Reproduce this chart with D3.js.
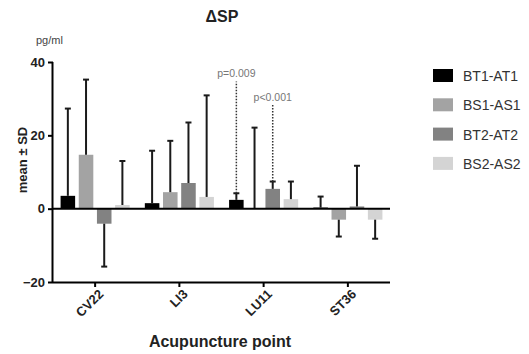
<!DOCTYPE html>
<html>
<head>
<meta charset="utf-8">
<script src="https://cdn.jsdelivr.net/npm/d3@7"></script>
<style>
  body { margin: 0; background: #fff; }
  text { font-family: "Liberation Sans", Arial, sans-serif; }
</style>
</head>
<body>
<div id="chart"></div>
<script>
// data
const points = ["CV22", "LI3", "LU11", "ST36"];
const groups = ["BT1-AT1", "BS1-AS1", "BT2-AT2", "BS2-AS2"];
const means = {
  "BT1-AT1": [3.5, 1.5, 2.4, 0.3],
  "BS1-AS1": [14.7, 4.5, 0.1, -3.0],
  "BT2-AT2": [-4.1, 7.0, 5.4, 0.6],
  "BS2-AS2": [1.0, 3.2, 2.6, -3.0],
};
const sds = {
  "BT1-AT1": [23.8, 14.3, 1.8, 3.0],
  "BS1-AS1": [20.5, 14.0, 22.0, 4.6],
  "BT2-AT2": [11.7, 16.5, 2.0, 11.1],
  "BS2-AS2": [12.0, 27.7, 4.8, 5.2],
};
const yTicks = [-20, 0, 20, 40];
const pNotes = [
  { point: "LU11", group: "BT1-AT1", label: "p=0.009", top: 34.7 },
  { point: "LU11", group: "BT2-AT2", label: "p<0.001", top: 28.4 },
];

const W = 529, H = 354;
const margin = { top: 62, right: 139, bottom: 72, left: 53 };
const width = W - margin.left - margin.right;
const height = H - margin.top - margin.bottom;

const color = d3.scaleOrdinal().domain(groups).range(["#000000", "#a3a3a3", "#828282", "#d4d4d4"]);

const x0 = d3.scaleBand().domain(points).range([0, width]).paddingInner(0.18).paddingOuter(0.09);
const x1 = d3.scaleBand().domain(groups).range([0, x0.bandwidth()]).paddingInner(0.2);
const y = d3.scaleLinear().domain([-20, 40]).range([height, 0]);

const svg = d3.select("#chart").append("svg")
  .attr("width", W).attr("height", H);
const g = svg.append("g").attr("transform", `translate(${margin.left},${margin.top})`);

const rows = [];
points.forEach((p, i) => groups.forEach((k) => {
  rows.push({ point: p, group: k, mean: means[k][i], sd: sds[k][i] });
}));

// bars
g.selectAll(".bar").data(rows).enter().append("rect")
  .attr("x", (d) => x0(d.point) + x1(d.group))
  .attr("width", x1.bandwidth())
  .attr("y", (d) => y(Math.max(0, d.mean)))
  .attr("height", (d) => Math.abs(y(d.mean) - y(0)))
  .attr("fill", (d) => color(d.group));

// one-sided error bars
const err = g.selectAll(".err").data(rows).enter().append("g")
  .attr("transform", (d) => `translate(${x0(d.point) + x1(d.group) + x1.bandwidth() / 2},0)`);
const tip = (d) => (d.mean >= 0 ? d.mean + d.sd : d.mean - d.sd);
err.append("line")
  .attr("y1", (d) => y(d.mean)).attr("y2", (d) => y(tip(d)))
  .attr("stroke", "#1a1a1a").attr("stroke-width", 2);
err.append("line")
  .attr("x1", -3).attr("x2", 3)
  .attr("y1", (d) => y(tip(d))).attr("y2", (d) => y(tip(d)))
  .attr("stroke", "#1a1a1a").attr("stroke-width", 2);

// zero line
g.append("line")
  .attr("x1", 0).attr("x2", width)
  .attr("y1", y(0)).attr("y2", y(0))
  .attr("stroke", "#000").attr("stroke-width", 2);

// p-value annotations
pNotes.forEach((n) => {
  const i = points.indexOf(n.point);
  const cx = x0(n.point) + x1(n.group) + x1.bandwidth() / 2;
  const base = means[n.group][i] + sds[n.group][i];
  g.append("line")
    .attr("x1", cx).attr("x2", cx)
    .attr("y1", y(base)).attr("y2", y(n.top))
    .attr("stroke", "#333").attr("stroke-width", 1.5)
    .attr("stroke-dasharray", "1.5,1.5");
  g.append("text")
    .attr("x", cx).attr("y", y(n.top) - 4)
    .attr("text-anchor", "middle")
    .attr("font-size", 10.5).attr("fill", "#777")
    .text(n.label);
});

// axes
const yAxis = g.append("g")
  .call(d3.axisLeft(y).tickValues(yTicks).tickSize(5).tickPadding(3));
const xAxis = g.append("g")
  .attr("transform", `translate(0,${height})`)
  .call(d3.axisBottom(x0).tickSize(5).tickPadding(4));
[yAxis, xAxis].forEach((a) => {
  a.select(".domain").attr("stroke-width", 2).attr("stroke", "#000");
  a.selectAll(".tick line").attr("stroke-width", 2).attr("stroke", "#000");
  a.selectAll("text").attr("font-size", 13).attr("font-weight", "bold").attr("fill", "#222")
    .style("font-family", "'Liberation Sans', Arial, sans-serif");
});
yAxis.select(".domain").attr("d", `M-0.5,${height}V0`);
xAxis.select(".domain").attr("d", `M0,0.5H${width}`);
xAxis.selectAll("text")
  .attr("text-anchor", "end")
  .attr("dx", "-0.2em").attr("dy", "0.5em")
  .attr("transform", "rotate(-45)");

// title and labels
svg.append("text")
  .attr("x", 222).attr("y", 22)
  .attr("text-anchor", "middle")
  .attr("font-size", 16).attr("font-weight", "bold").attr("fill", "#222")
  .text("ΔSP");
svg.append("text")
  .attr("x", 36).attr("y", 44)
  .attr("font-size", 11).attr("fill", "#444")
  .text("pg/ml");
svg.append("text")
  .attr("transform", "translate(27,160) rotate(-90)")
  .attr("text-anchor", "middle")
  .attr("font-size", 13).attr("font-weight", "bold").attr("fill", "#222")
  .text("mean ± SD");
svg.append("text")
  .attr("x", 220).attr("y", 347)
  .attr("text-anchor", "middle")
  .attr("font-size", 16).attr("font-weight", "bold").attr("fill", "#222")
  .text("Acupuncture point");

// legend
const legend = svg.selectAll(".legend").data(groups).enter().append("g")
  .attr("transform", (d, i) => `translate(433,${69 + i * 29.3})`);
legend.append("rect")
  .attr("width", 20).attr("height", 13)
  .attr("fill", (d) => color(d));
legend.append("text")
  .attr("x", 30).attr("y", 12)
  .attr("font-size", 14).attr("fill", "#333")
  .text((d) => d);
</script>
</body>
</html>
